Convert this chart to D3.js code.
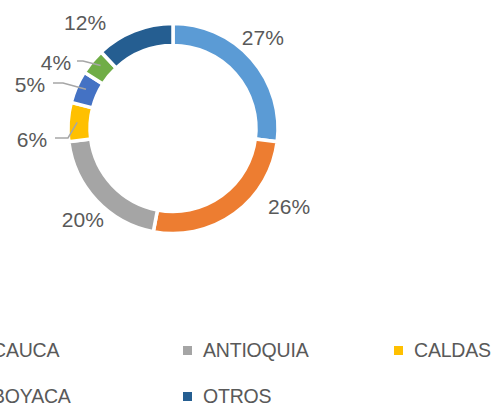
<!DOCTYPE html>
<html>
<head>
<meta charset="utf-8">
<script src="https://cdnjs.cloudflare.com/ajax/libs/d3/7.8.5/d3.min.js"></script>
<style>
  body { margin: 0; background: #fff; }
  text { font-family: "Liberation Sans", Arial, sans-serif; fill: #595959; }
</style>
</head>
<body>
<div id="chart"></div>
<script>
// data, clockwise from 12 o'clock
var departamentos = ["VALLE", "CAUCA", "ANTIOQUIA", "CALDAS", "HUILA", "BOYACA", "OTROS"]
var porcentajes = [27, 26, 20, 6, 5, 4, 12]
var colores = ["#5B9BD5", "#ED7D31", "#A5A5A5", "#FFC000", "#4472C4", "#70AD47", "#255E91"]

var width = 492, height = 405
var cx = 173, cy = 128.5
var outer = 105, inner = 83

// label placement (angle nudge in degrees, radius) - excel "best fit" look
var labelPos = [
  {da: -4, r: 128},
  {da: -20, r: 140},
  {da: -2, r: 128},
  {da: 0, r: 0},
  {da: 0, r: 0},
  {da: 0, r: 0},
  {da: -18, r: 138}
]

var svg = d3.select("#chart").append("svg")
  .attr("width", width)
  .attr("height", height)

var g = svg.append("g")
  .attr("transform", `translate(${cx},${cy})`)

var pie = d3.pie().sort(null).value(d => d)
var arcs = pie(porcentajes)

var arc = d3.arc()
  .innerRadius(inner)
  .outerRadius(outer)

g.selectAll("path")
  .data(arcs)
  .join("path")
    .attr("d", arc)
    .attr("fill", (d, i) => colores[i])
    .attr("stroke", "#fff")
    .attr("stroke-width", 3.5)

function polar(a, r) {
  return [r * Math.sin(a), -r * Math.cos(a)]
}

// big slices: labels outside, no leader
arcs.forEach((d, i) => {
  var p = labelPos[i]
  if (!p.r) return
  var a = (d.startAngle + d.endAngle) / 2 + p.da * Math.PI / 180
  var xy = polar(a, p.r)
  g.append("text")
    .attr("x", xy[0])
    .attr("y", xy[1])
    .attr("text-anchor", "middle")
    .attr("dy", "0.36em")
    .style("font-size", "21px")
    .text(porcentajes[i] + "%")
})

// small slices: labels to the left with leader lines
var small = [
  {i: 3, lx: -141, ly: 10.5, off: 23, elbow: -105, pr: 96, pa: 0.5},
  {i: 4, lx: -143, ly: -44.5, off: 23, elbow: -110, pr: 95.5, pa: 0.55},
  {i: 5, lx: -117, ly: -66.5, off: 21, elbow: -90, pr: 96, pa: 0.6}
]
small.forEach(s => {
  var d = arcs[s.i]
  var a = d.startAngle + (d.endAngle - d.startAngle) * s.pa
  var pt = polar(a, s.pr)
  var start = [s.lx + s.off, s.ly - 1]
  g.append("polyline")
    .attr("points", [start, [s.elbow, start[1]], pt].map(p => p.join(",")).join(" "))
    .attr("fill", "none")
    .attr("stroke", "#A6A6A6")
    .attr("stroke-width", 1.5)
  g.append("text")
    .attr("x", s.lx)
    .attr("y", s.ly)
    .attr("text-anchor", "middle")
    .attr("dy", "0.36em")
    .style("font-size", "21px")
    .text(porcentajes[s.i] + "%")
})

// legend, 4 columns (left part is cut off like the original)
var colW = 211, legX = 203 - 2 * colW, legY = 350, rowH = 46
var legend = svg.append("g")
  .selectAll("g")
  .data(departamentos)
  .join("g")
    .attr("transform", (d, i) => `translate(${legX + (i % 4) * colW},${legY + Math.floor(i / 4) * rowH})`)

legend.append("rect")
  .attr("x", -20)
  .attr("y", -4)
  .attr("width", 9)
  .attr("height", 9)
  .attr("fill", (d, i) => colores[i])

legend.append("text")
  .attr("x", 0)
  .attr("dy", "0.36em")
  .style("font-size", "19.5px")
  .style("letter-spacing", "-0.2px")
  .text(d => d)
</script>
</body>
</html>
